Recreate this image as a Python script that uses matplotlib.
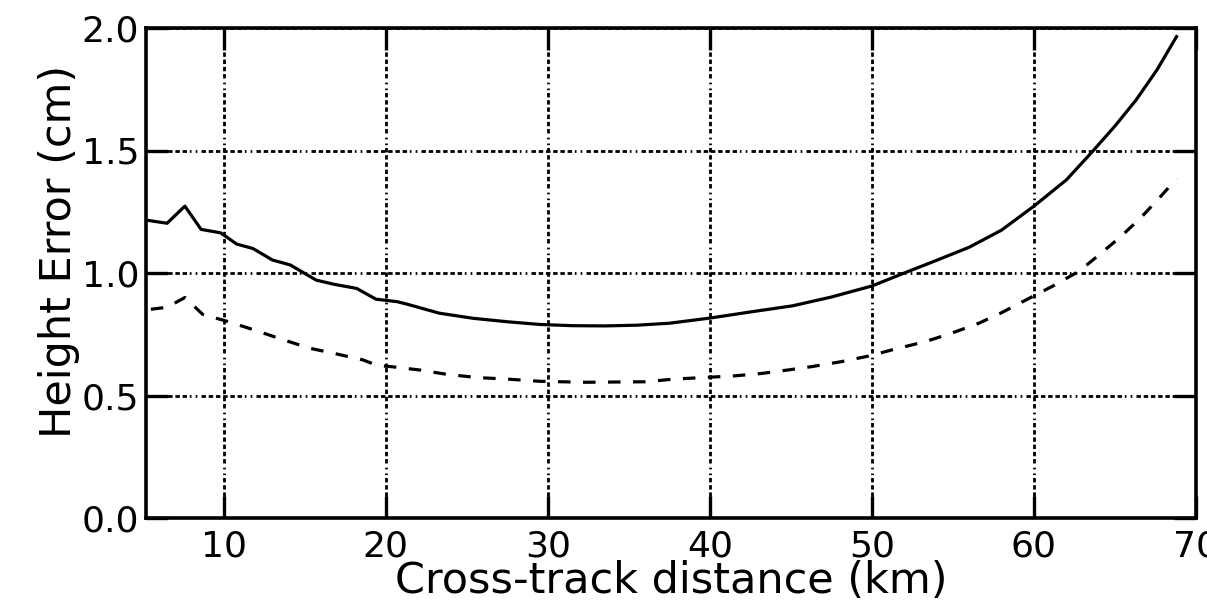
import matplotlib
matplotlib.use("Agg")
import matplotlib.pyplot as plt

# Solid curve (Height Error, cm) vs cross-track distance (km)
solid_x = [5.2, 6.5, 7.6, 8.6, 9.8, 10.8, 11.8, 13.0, 14.1, 15.7, 16.8, 18.2, 19.4, 20.7,
           21.3, 23.3, 25.4, 27.5, 29.5, 31.5, 33.5, 35.5, 37.5, 40.0, 42.6, 45.1, 47.5,
           50.0, 52.0, 54.0, 56.0, 58.0, 60.0, 62.0, 63.6, 65.0, 66.3, 67.6, 68.8]
solid_y = [1.216, 1.203, 1.273, 1.178, 1.164, 1.118, 1.100, 1.053, 1.033, 0.971, 0.954, 0.937,
           0.893, 0.883, 0.873, 0.836, 0.815, 0.801, 0.790, 0.785, 0.784, 0.787, 0.795, 0.816,
           0.842, 0.866, 0.902, 0.947, 1.000, 1.052, 1.105, 1.175, 1.273, 1.380, 1.495, 1.600,
           1.706, 1.830, 1.965]

# Dashed curve
dashed_x = [5.5, 6.5, 7.6, 8.7, 10.3, 11.9, 13.6, 15.3, 17.0, 18.6, 19.5, 20.3, 22.1, 23.8,
            25.7, 27.5, 29.5, 32.3, 36.0, 37.8, 39.5, 41.5, 43.2, 44.8, 46.3, 48.1, 49.8,
            51.4, 53.3, 54.9, 56.6, 58.0, 59.8, 61.2, 62.8, 64.0, 65.3, 66.6, 67.8, 68.8]
dashed_y = [0.852, 0.860, 0.900, 0.831, 0.801, 0.767, 0.729, 0.693, 0.669, 0.645, 0.622, 0.618,
            0.604, 0.586, 0.573, 0.567, 0.558, 0.554, 0.556, 0.567, 0.573, 0.580, 0.590, 0.604,
            0.618, 0.638, 0.661, 0.689, 0.720, 0.754, 0.795, 0.838, 0.900, 0.948, 1.008, 1.073,
            1.145, 1.226, 1.311, 1.385]

x_ticks = [10, 20, 30, 40, 50, 60, 70]
y_ticks = [0.0, 0.5, 1.0, 1.5, 2.0]
y_tick_labels = ["0.0", "0.5", "1.0", "1.5", "2.0"]

plt.rcParams['font.family'] = ['DejaVu Sans']
plt.rcParams['lines.scale_dashes'] = False

fig = plt.figure(figsize=(12.07, 6.13), dpi=100)
ax = fig.add_axes([146/1207, 1 - 518/613, (1196 - 146)/1207, (518 - 28)/613])

ax.plot(solid_x, solid_y, color='black', lw=2.3, solid_joinstyle='round', zorder=3)
ax.plot(dashed_x, dashed_y, color='black', lw=2.3, dashes=(9, 9), zorder=3)

ax.set_xlim(5.2, 70)
ax.set_ylim(0, 2.0)
ax.set_xticks(x_ticks)
ax.set_yticks(y_ticks)
ax.set_yticklabels(y_tick_labels)

grid_style = (0, (3.2, 2.0, 3.2, 2.0, 3.2, 2.0, 3.2, 2.0, 3.2, 2.0, 3.2, 2.0, 1.2, 3.0, 1.2, 3.0))
ax.grid(True, color='black', linestyle=grid_style, lw=2.0)

for s in ax.spines.values():
    s.set_linewidth(2.6)

ax.tick_params(direction='in', length=16, width=2.4, top=True, right=True,
               labelsize=26, pad=5, colors='black')
ax.tick_params(axis='x', pad=8)

ax.set_xlabel('Cross-track distance (km)', fontsize=31, labelpad=-2)
ax.set_ylabel('Height Error (cm)', fontsize=31)
ax.yaxis.set_label_coords(-0.063, 0.545)

fig.savefig('out.png', dpi=100)
